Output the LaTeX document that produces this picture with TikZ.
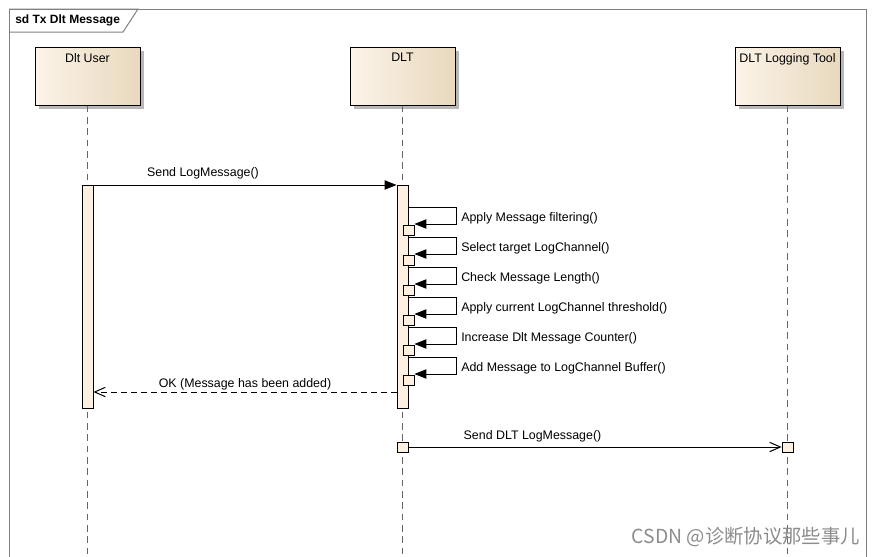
\documentclass[tikz,border=0pt]{standalone}
\usepackage{fontspec}
\setmainfont{Liberation Sans}
\newfontfamily\cjk{Noto Sans CJK SC}
\usetikzlibrary{arrows.meta,shadows}
\definecolor{headL}{RGB}{252,244,232}
\definecolor{headR}{RGB}{232,216,190}
\definecolor{barfill}{RGB}{253,240,225}
\definecolor{framec}{RGB}{128,128,128}
\begin{document}
\begin{tikzpicture}[x=0.75pt,y=-0.75pt,font=\fontsize{9.3}{11}\selectfont]
\tikzset{
  head/.style={draw=black, line width=0.75pt, left color=headL, right color=headR,
    minimum width=78.75pt, minimum height=43.5pt, inner sep=0pt,
    drop shadow={shadow xshift=3pt, shadow yshift=-3pt, fill=black!28, opacity=1}},
  headlbl/.style={anchor=north, inner sep=0pt, yshift=-5pt},
  lifeline/.style={draw=black!60, line width=0.75pt, dash pattern=on 5pt off 3.5pt},
  bar/.style={draw=black, line width=0.6pt, fill=barfill, minimum width=8.25pt, inner sep=0pt},
  act/.style={draw=black, line width=0.6pt, fill=barfill, minimum width=8.25pt, minimum height=7.5pt, inner sep=0pt},
  call/.style={draw=black, line width=0.75pt, -{Triangle[length=9pt,width=7pt]}},
  sync/.style={draw=black, line width=0.75pt, -{Triangle[length=9pt,width=7pt]}},
  reply/.style={draw=black, line width=0.75pt, dash pattern=on 4.5pt off 3pt, -{Straight Barb[length=8pt,width=7pt]}},
  async/.style={draw=black, line width=0.75pt, -{Straight Barb[length=8pt,width=7pt]}},
  msglbl/.style={inner sep=0pt},
  framel/.style={draw=framec, line width=0.75pt}
}
\useasboundingbox (0,0) rectangle (875,557);
\fill[white] (0,0) rectangle (875,557);
% frame
\draw[framel] (9,557) -- (9,9) -- (866,9) -- (866,557);
\draw[framel] (9,9) -- (138,9) -- (123,32) -- (9,32);
\node[anchor=west, inner sep=0pt, font=\fontsize{9}{11}\selectfont\bfseries] (title) at (15,20.5) {sd Tx Dlt Message};
% heads
\node[head, label={[headlbl]north:Dlt User}] (user) at (87.5,76) {};
\node[head, label={[headlbl]north:DLT}] (dlt) at (402.5,76) {};
\node[head, label={[headlbl]north:DLT Logging Tool}] (tool) at (787.5,76) {};
% lifelines
\coordinate (userend) at (87.5,557);
\coordinate (dltend) at (402.5,557);
\coordinate (toolend) at (787.5,557);
\draw[lifeline] (user.south) -- (userend);
\draw[lifeline] (dlt.south) -- (dltend);
\draw[lifeline] (tool.south) -- (toolend);
% activation bars
\node[bar, minimum height=167.25pt] (userbar) at (87.5,296.5) {};
\node[bar, minimum height=167.25pt] (dltbar) at (402.5,296.5) {};
% Send LogMessage
\coordinate (m1) at (0,185);
\draw[call] (userbar.east |- m1) -- (dltbar.west |- m1);
\node[msglbl] (m1l) at (203,173) {Send LogMessage()};
% self messages
\foreach \i/\t in {0/Apply Message filtering(),1/Select target LogChannel(),2/Check Message Length(),3/Apply current LogChannel threshold(),4/Increase Dlt Message Counter(),5/Add Message to LogChannel Buffer()}{
  \pgfmathsetmacro\ya{207+30*\i}
  \pgfmathsetmacro\yb{224+30*\i}
  \pgfmathsetmacro\yc{230+30*\i}
  \node[act] (s\i) at (408.5,\yc) {};
  \coordinate (sa\i) at (456,\ya);
  \coordinate (sb\i) at (456,\yb);
  \draw[sync] (dltbar.east |- sa\i) -- (sa\i) -- (sb\i) -- (s\i.east |- sb\i);
  \node[msglbl, anchor=west] (sl\i) at (461,\ya+11) {\t};
}
% reply
\coordinate (m2) at (0,392);
\draw[reply] (dltbar.west |- m2) -- (userbar.east |- m2);
\node[msglbl] (m2l) at (245,384) {OK (Message has been added)};
% Send DLT LogMessage
\node[act] (da) at (402.5,447) {};
\node[act] (ta) at (787.5,447) {};
\draw[async] (da.east) -- (ta.west);
\node[msglbl] (m3l) at (532.5,436) {Send DLT LogMessage()};
% watermark
\node[anchor=east, inner sep=0pt, text=black!45, font=\cjk\fontsize{14.5}{16}\selectfont] (wm) at (860,537) {CSDN @诊断协议那些事儿};
\end{tikzpicture}
\end{document}
